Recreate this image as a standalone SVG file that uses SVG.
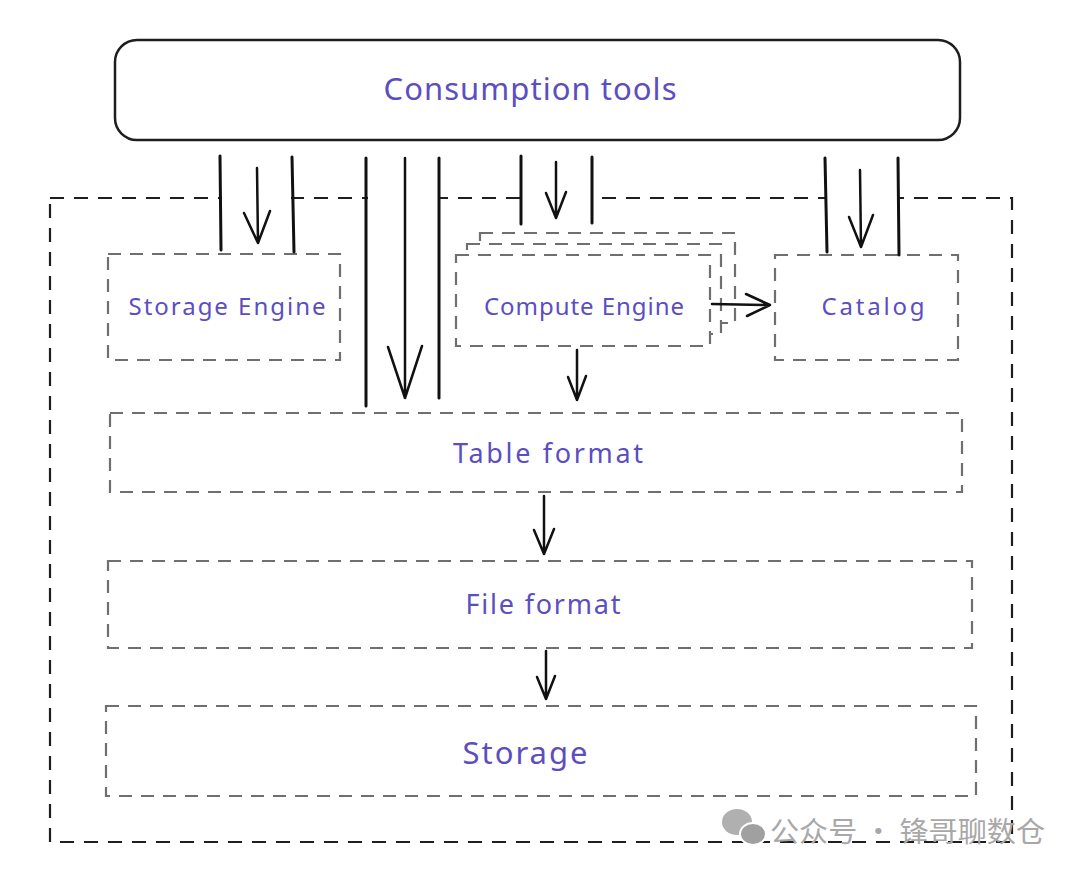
<svg xmlns="http://www.w3.org/2000/svg" width="1080" height="875" viewBox="0 0 1080 875">
<defs>
<style>
.lbl{font-family:"Noto Sans","Liberation Sans",sans-serif;fill:#5b4ec2;text-anchor:middle;dominant-baseline:central}
.box{fill:none;stroke:#6f6f6f;stroke-width:2.2;stroke-dasharray:13 9}
.boxw{fill:#fff;stroke:#6f6f6f;stroke-width:2.2;stroke-dasharray:13 9}
.outer{fill:none;stroke:#1e1e1e;stroke-width:2.2;stroke-dasharray:14 10}
.ln{stroke:#111;stroke-width:3;fill:none;stroke-linecap:round}
.ar{stroke:#111;stroke-width:2.5;fill:none;stroke-linecap:round;stroke-linejoin:round}
.wm{font-family:"Noto Sans CJK SC","Noto Sans",sans-serif;fill:#a8a8a8}
</style>
</defs>
<rect width="1080" height="875" fill="#fff"/>
<g id="outer-frame"><rect class="outer" x="50" y="198" width="962" height="644"/></g>
<g id="consumption-tools">
<rect x="115" y="40" width="845" height="100" rx="22" fill="#fff" stroke="#1e1e1e" stroke-width="2.5"/>
<text class="lbl" x="530" y="88" font-size="31" textLength="293" lengthAdjust="spacing">Consumption tools</text>
</g>
<g id="storage-engine">
<rect class="box" x="108" y="254" width="232" height="106"/>
<text class="lbl" x="227" y="305" font-size="24" textLength="197" lengthAdjust="spacing">Storage Engine</text>
</g>
<g id="compute-engine">
<rect class="boxw" x="480" y="233" width="255" height="90"/>
<rect class="boxw" x="467" y="244" width="254" height="90"/>
<rect class="boxw" x="456" y="255" width="254" height="91"/>
<text class="lbl" x="584" y="305" font-size="24" textLength="200" lengthAdjust="spacing">Compute Engine</text>
</g>
<g id="catalog">
<rect class="box" x="775" y="255" width="183" height="105"/>
<text class="lbl" x="873" y="305" font-size="24" textLength="103" lengthAdjust="spacing">Catalog</text>
</g>
<g id="table-format">
<rect class="box" x="110" y="413" width="852" height="79"/>
<text class="lbl" x="548" y="452" font-size="27" textLength="190" lengthAdjust="spacing">Table format</text>
</g>
<g id="file-format">
<rect class="box" x="108" y="561" width="864" height="87"/>
<text class="lbl" x="543" y="603" font-size="27" textLength="155" lengthAdjust="spacing">File format</text>
</g>
<g id="storage">
<rect class="box" x="106" y="706" width="870" height="90"/>
<text class="lbl" x="525" y="752" font-size="31" textLength="125" lengthAdjust="spacing">Storage</text>
</g>
<g id="connectors">
<rect x="222" y="156" width="69" height="95" fill="#fff"/>
<line class="ln" x1="220" y1="156" x2="221" y2="250"/>
<line class="ln" x1="292" y1="157" x2="294" y2="252"/>
<path class="ar" d="M257 168 L258 243 M244 213 L258 243 L270 211"/>
<rect x="368" y="158" width="70" height="248" fill="#fff"/>
<line class="ln" x1="366" y1="158" x2="366" y2="406"/>
<line class="ln" x1="439" y1="158" x2="439" y2="398"/>
<path class="ar" d="M405 158 L405 398 M388 347 L405 398 L422 346"/>
<rect x="523" y="156" width="68" height="68" fill="#fff"/>
<line class="ln" x1="521" y1="156" x2="521" y2="224"/>
<line class="ln" x1="592" y1="157" x2="592" y2="223"/>
<path class="ar" d="M556 162 L556 218 M546 193 L556 218 L566 192"/>
<rect x="827" y="158" width="70" height="96" fill="#fff"/>
<line class="ln" x1="825" y1="158" x2="827" y2="252"/>
<line class="ln" x1="898" y1="158" x2="899" y2="255"/>
<path class="ar" d="M860 170 L861 247 M849 217 L861 247 L873 215"/>
<path class="ar" d="M712 304 L770 305 M746 294 L770 305 L747 316"/>
<path class="ar" d="M577 350 L577 400 M568 377 L577 400 L586 376"/>
<path class="ar" d="M544 496 L544 554 M534 530 L544 554 L554 529"/>
<path class="ar" d="M546 651 L546 699 M537 677 L546 699 L555 676"/>
</g>
<g id="watermark">
<ellipse cx="737" cy="822" rx="15" ry="13" fill="#b0b0b0"/>
<ellipse cx="753" cy="834" rx="13" ry="11" fill="#a0a0a0" stroke="#fff" stroke-width="2"/>
<text class="wm" x="770" y="842" font-size="28" textLength="275" lengthAdjust="spacingAndGlyphs">公众号 · 锋哥聊数仓</text>
</g>
</svg>
